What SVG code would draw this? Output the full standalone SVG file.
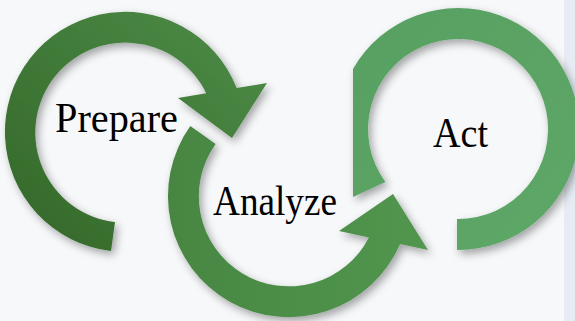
<svg xmlns="http://www.w3.org/2000/svg" width="575" height="321" viewBox="0 0 575 321">
  <defs>
    <filter id="shadow" x="-20%" y="-20%" width="140%" height="140%">
      <feDropShadow dx="3" dy="4" stdDeviation="4" flood-color="#000" flood-opacity="0.35"/>
    </filter>
    <linearGradient id="g1" x1="0" y1="1" x2="1" y2="0">
      <stop offset="0" stop-color="#336628"/>
      <stop offset="1" stop-color="#4e8d49"/>
    </linearGradient>
    <linearGradient id="g2" x1="0" y1="0" x2="1" y2="0">
      <stop offset="0" stop-color="#478642"/>
      <stop offset="1" stop-color="#52964f"/>
    </linearGradient>
    <linearGradient id="g3" x1="0" y1="0" x2="1" y2="1">
      <stop offset="0" stop-color="#58a062"/>
      <stop offset="1" stop-color="#5da767"/>
    </linearGradient>
  </defs>
  <style>
    .ring { filter: url(#shadow); }
    .label { font-family: "Liberation Serif", "Times New Roman", serif; font-size: 42px; fill: #000; }
  </style>
  <rect x="0" y="0" width="575" height="321" fill="#f7f8fa"/>
  <rect x="564" y="0" width="11" height="321" fill="#e7ecf4"/>

  <g id="node-prepare">
    <path class="ring" fill="url(#g1)" d="M 111,251 A 120 120 0 1 1 236.7,88.1 L 267,83 L 232,138 L 178,98 L 206.2,93.2 A 90 90 0 1 0 115,222 Z"/>
    <text class="label" x="55" y="132" textLength="123" lengthAdjust="spacingAndGlyphs">Prepare</text>
  </g>

  <g id="node-analyze">
    <path class="ring" fill="url(#g2)" d="M 190.3,126.1 A 121 121 0 1 0 400.1,244 L 428,250 L 393,194 L 339,231 L 368.9,237.4 A 90 90 0 1 1 215.6,144 Z"/>
    <text class="label" x="213" y="215" textLength="124" lengthAdjust="spacingAndGlyphs">Analyze</text>
  </g>

  <g id="node-act">
    <path class="ring" fill="url(#g3)" d="M 353,197 L 353,69 A 121 121 0 1 1 457,250 L 457,219 A 90 90 0 1 0 385.3,182 Z"/>
    <text class="label" x="433" y="147" textLength="55" lengthAdjust="spacingAndGlyphs">Act</text>
  </g>
</svg>
